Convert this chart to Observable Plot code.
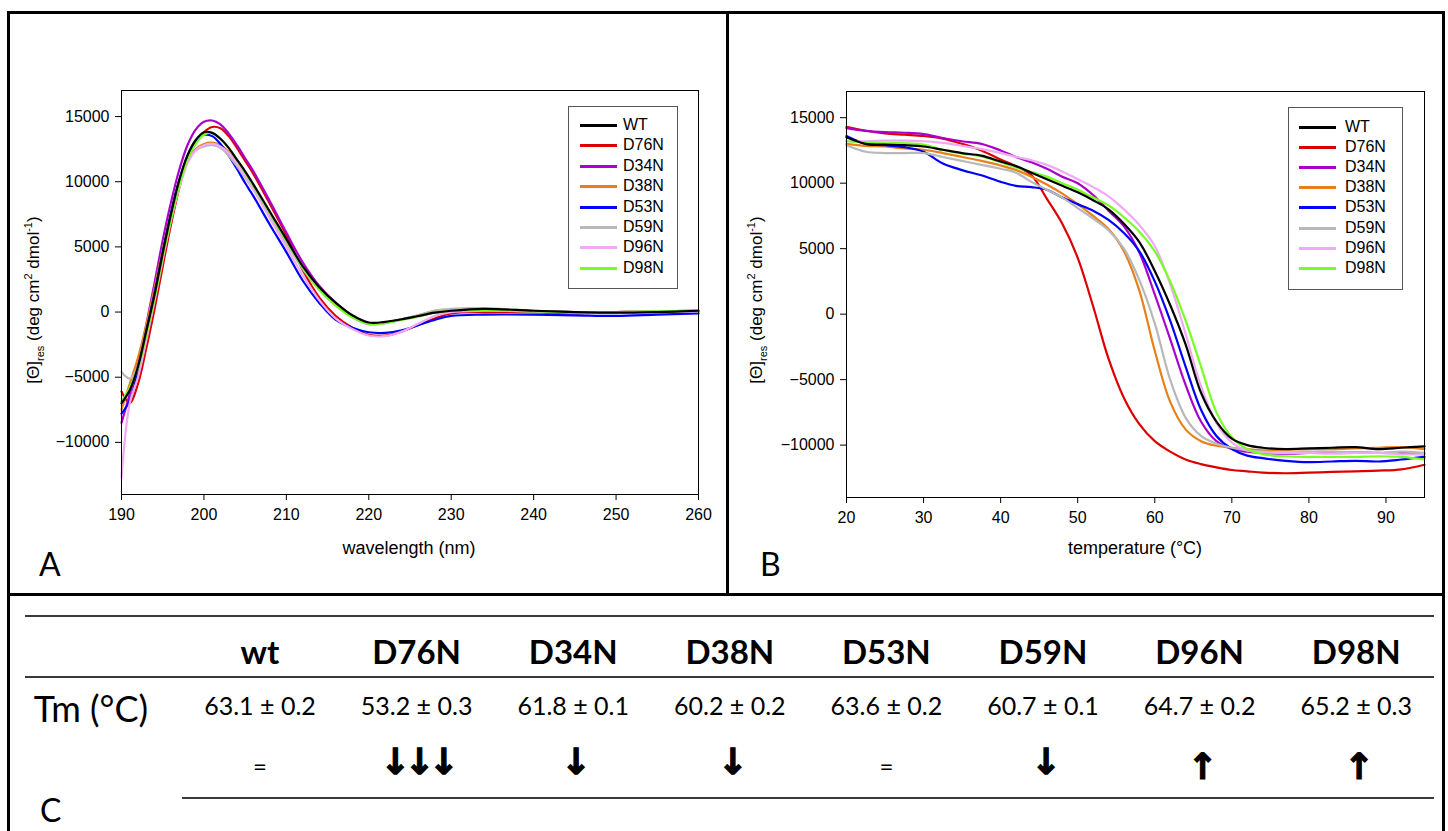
<!DOCTYPE html>
<html><head><meta charset="utf-8">
<script src="https://cdn.jsdelivr.net/npm/d3@7"></script>
<script src="https://cdn.jsdelivr.net/npm/@observablehq/plot@0.6"></script>
<style>
body{margin:0;background:#fff;}
#fig{position:relative;width:1448px;height:831px;overflow:hidden;background:#fff;font-family:"Liberation Sans",Arial,sans-serif;color:#000;}
.abs{position:absolute;white-space:nowrap;}
.legend{position:absolute;border:1px solid #555;background:#fff;box-sizing:border-box;}
.lg-line{position:absolute;height:3px;}
.lg-text{position:absolute;font-size:16px;line-height:16px;}
.ylab{position:absolute;white-space:nowrap;font-size:17px;transform:translate(-50%,-50%) rotate(-90deg);}
.ylab sub,.ylab sup{font-size:11px;}
.xlab{position:absolute;white-space:nowrap;font-size:18px;transform:translate(-50%,-50%);}
.letter{position:absolute;font-family:Lato,sans-serif;font-size:32px;line-height:32px;}
.tbl{position:absolute;white-space:nowrap;font-family:Lato,sans-serif;transform:translate(-50%,-50%);line-height:1;}
.hline{position:absolute;height:1.5px;background:#3a3a3a;}
.bar{position:absolute;background:#000;}
</style></head><body><div id="fig"></div>
<script>
// ---------- data ----------
const variants = ["WT","D76N","D34N","D38N","D53N","D59N","D96N","D98N"];
const colors   = ["#000000","#dd0000","#aa00cc","#e8801a","#0000ff","#b8b8b8","#eeaaf5","#77ff22"];

// Panel A: CD spectra, wavelength (nm)
const wavelength = [190,191,192,193,194,195,196,197,198,199,200,201,202,203,204,205,206,208,210,212,214,216,218,220,222,224,226,228,230,234,240,245,250,255,260];
const cdWT   = [-7000,-6000,-4200,-1500,1300,4500,7500,10100,12000,13200,13800,13750,13300,12600,11700,10800,9800,7700,5600,3500,1900,700,-250,-800,-750,-550,-300,-50,100,250,100,0,-50,0,100];
const cdD76N = [-6100,-7000,-5500,-2800,200,3500,6700,9500,11700,13000,13800,14200,14100,13500,12600,11600,10600,8300,5900,3200,1100,-300,-1200,-1750,-1800,-1500,-1000,-500,-100,0,0,-100,0,50,100];
const cdD34N = [-8500,-6300,-4000,-1000,2200,5500,8400,10900,12800,14000,14600,14700,14400,13700,12800,11800,10800,8500,6100,3800,2000,700,-300,-850,-800,-550,-300,-50,100,200,50,0,0,50,100];
const cdD38N = [-7500,-5500,-3500,-1000,1800,4800,7600,10000,11600,12500,12900,13000,12800,12300,11500,10600,9600,7500,5400,3400,1800,600,-350,-900,-800,-550,-250,100,200,200,100,0,0,50,100];
const cdD53N = [-7800,-6800,-4500,-1500,1400,4600,7600,10100,12000,13100,13600,13500,12900,12000,11000,9900,8900,6700,4600,2400,700,-600,-1200,-1550,-1600,-1400,-1000,-600,-300,-200,-200,-250,-300,-200,-100];
const cdD59N = [-4600,-5100,-4200,-1700,1200,4300,7300,9800,11500,12400,12700,12800,12600,12000,11200,10300,9400,7300,5300,3300,1700,500,-400,-950,-850,-550,-250,100,250,300,100,0,0,50,100];
const cdD96N = [-12700,-7000,-5000,-2200,800,4000,7000,9500,11400,12400,12800,12900,12700,12200,11400,10400,9400,7200,5000,2800,900,-500,-1300,-1800,-1850,-1500,-900,-300,0,100,50,-50,0,50,50];
const cdD98N = [-6850,-5800,-4300,-1800,1000,4200,7100,9700,11700,12900,13600,13750,13300,12600,11700,10700,9700,7600,5500,3400,1700,500,-400,-900,-850,-600,-350,-50,100,150,50,0,0,50,100];

// Panel B: thermal melts, temperature (°C)
const temperature = [20,22.5,25,27.5,30,32.5,35,37.5,40,42,44,46,48,50,52,54,56,58,60,62,64,66,68,70,72,74,77,80,83,86,89,92,95];
const mWT   = [13500,13000,12950,12900,12800,12550,12300,12100,11650,11300,10800,10300,9800,9300,8700,8000,6900,5500,3300,700,-2300,-6000,-8200,-9500,-10000,-10200,-10300,-10250,-10200,-10150,-10300,-10200,-10100];
const mD76N = [14300,14000,13800,13700,13600,13400,13000,12500,11800,11300,10600,8800,6900,4300,600,-3400,-6400,-8400,-9700,-10500,-11100,-11450,-11700,-11900,-12000,-12100,-12150,-12100,-12050,-12000,-11950,-11850,-11500];
const mD34N = [14200,14000,13900,13850,13750,13450,13200,13000,12500,12000,11600,11100,10500,10000,9100,7900,6700,4700,1500,-1900,-5400,-8200,-9700,-10300,-10500,-10600,-10650,-10600,-10600,-10550,-10600,-10600,-10700];
const mD38N = [13000,12850,12800,12650,12550,12300,12000,11700,11350,11000,10500,9900,9200,8400,7500,6500,4800,1800,-2800,-6700,-8800,-9700,-10050,-10200,-10300,-10400,-10350,-10300,-10300,-10250,-10200,-10150,-10300];
const mD53N = [13600,13000,12900,12750,12400,11500,11000,10600,10100,9800,9700,9500,8900,8400,7900,7200,6200,4800,2500,-500,-4000,-7300,-9300,-10300,-10800,-11000,-11200,-11300,-11250,-11200,-11250,-11100,-10900];
const mD59N = [12900,12400,12300,12300,12300,12000,11700,11400,11100,10800,10100,9500,8900,8100,7300,6400,5000,2600,-700,-5000,-7900,-9300,-9900,-10200,-10400,-10500,-10550,-10500,-10500,-10550,-10600,-10500,-10600];
const mD96N = [13200,13200,13250,13250,13200,13080,12850,12600,12300,12000,11750,11400,10900,10300,9700,9000,8000,6800,5200,2300,-1500,-5500,-8300,-9800,-10400,-10550,-10600,-10600,-10650,-10600,-10600,-10700,-10700];
const mD98N = [13200,13100,13050,13050,12950,12550,12250,12050,11600,11200,10850,10500,10000,9500,8900,8300,7400,6300,4800,2500,-500,-4000,-7500,-9400,-10300,-10700,-10850,-10900,-10900,-10900,-10850,-10900,-11100];

const yTicks = [-10000,-5000,0,5000,10000,15000];
const xTicksA = [190,200,210,220,230,240,250,260];
const xTicksB = [20,30,40,50,60,70,80,90];

// Panel C: table
const tableHeads = ["wt","D76N","D34N","D38N","D53N","D59N","D96N","D98N"];
const tmValue = [63.1,53.2,61.8,60.2,63.6,60.7,64.7,65.2];
const tmError = [0.2,0.3,0.1,0.2,0.2,0.1,0.2,0.3];
const tmChange = ["=","↓↓↓","↓","↓","=","↓","↑","↑"];

// ---------- build ----------
const fig = document.getElementById("fig");
function el(cls, html, css){const d=document.createElement("div");d.className=cls;d.innerHTML=html;Object.assign(d.style,css);fig.appendChild(d);return d;}

const cdSeries = [cdWT,cdD76N,cdD34N,cdD38N,cdD53N,cdD59N,cdD96N,cdD98N];
const meltSeries = [mWT,mD76N,mD34N,mD38N,mD53N,mD59N,mD96N,mD98N];
const cdRows = cdSeries.flatMap((s,i)=>s.map((v,j)=>({variant:variants[i],x:wavelength[j],y:v})));
const meltRows = meltSeries.flatMap((s,i)=>s.map((v,j)=>({variant:variants[i],x:temperature[j],y:v})));

function panel(rows, xDomain, xTicks, opts){
  return Plot.plot({
    width: opts.width, height: opts.height,
    marginLeft: opts.ml, marginRight: opts.mr, marginTop: opts.mt, marginBottom: opts.mb,
    style:{fontFamily:'"Liberation Sans", Arial, sans-serif', fontSize:"16px", background:"transparent", color:"#000", overflow:"visible"},
    x:{domain:xDomain, ticks:xTicks, tickFormat:"d", tickSize:6, tickPadding:8, label:null},
    y:{domain:[-14000,17000], ticks:yTicks, tickFormat:"d", tickSize:6, tickPadding:6, label:null},
    color:{domain:variants, range:colors},
    marks:[
      Plot.line(rows.filter(r=>r.variant!=="WT"), {x:"x", y:"y", z:"variant", stroke:"variant", strokeWidth:2.2, curve:"catmull-rom"}),
      Plot.line(rows.filter(r=>r.variant==="WT"), {x:"x", y:"y", stroke:"variant", strokeWidth:2.2, curve:"catmull-rom"}),
      Plot.frame({stroke:"#000", strokeWidth:1})
    ]
  });
}

const svgA = panel(cdRows,[190,260],xTicksA,{width:727,height:595,ml:121,mr:29,mt:90,mb:101});
const svgB = panel(meltRows,[20,95],xTicksB,{width:721,height:595,ml:119,mr:24,mt:91,mb:98});
const wa = el("abs","",{left:"0px",top:"0px"}); wa.appendChild(svgA);
const wb = el("abs","",{left:"727px",top:"0px"}); wb.appendChild(svgB);

// axis titles
const yLabel = "[Θ]<sub>res</sub> (deg cm<sup>2</sup> dmol<sup>-1</sup>)";
el("ylab", yLabel, {left:"34px", top:"300px"});
el("ylab", yLabel, {left:"757px", top:"300px"});
el("xlab", "wavelength (nm)", {left:"409px", top:"548px"});
el("xlab", "temperature (°C)", {left:"1135px", top:"548px"});

// legends
function legend(left, top, w, h, lineX, textX, firstY, step){
  el("legend","",{left:left+"px",top:top+"px",width:w+"px",height:h+"px"});
  variants.forEach((v,i)=>{
    const y = Math.round(firstY + i*step);
    el("lg-line","",{left:lineX+"px",top:(y-1)+"px",width:"37px",background:colors[i]});
    el("lg-text",v,{left:textX+"px",top:(y-8)+"px"});
  });
}
legend(568,106,110,183,580,623,125,20.4);
legend(1288,107,115,183,1299,1345,127,20.1);

// frame borders
el("bar","",{left:"7px",top:"11px",width:"3px",height:"830px"});
el("bar","",{left:"7px",top:"11px",width:"1438px",height:"3px"});
el("bar","",{left:"1442px",top:"11px",width:"3px",height:"830px"});
el("bar","",{left:"726px",top:"11px",width:"3px",height:"584px"});
el("bar","",{left:"7px",top:"593px",width:"1438px",height:"3px"});

// panel letters
el("letter","A",{left:"39px",top:"548px"});
el("letter","B",{left:"760px",top:"548px"});
el("letter","C",{left:"40px",top:"794px"});

// table
el("hline","",{left:"25px",top:"615px",width:"1409px"});
el("hline","",{left:"25px",top:"676px",width:"1409px"});
el("hline","",{left:"182px",top:"797px",width:"1252px"});
el("tbl","Tm (°C)",{left:"91px",top:"708px",fontSize:"36px"});
tableHeads.forEach((h,i)=>{
  const cx = 260 + i*156.6;
  el("tbl",h,{left:cx+"px",top:"651px",fontSize:"33px",fontWeight:"700"});
  el("tbl",tmValue[i].toFixed(1)+" ± "+tmError[i].toFixed(1),{left:cx+"px",top:"705px",fontSize:"25px"});
  const ch = tmChange[i];
  if(ch==="=") el("tbl","=",{left:cx+"px",top:"766px",fontSize:"24px"});
  else el("tbl",ch,{left:cx+"px",top:(ch==="↑"?"767px":"762px"),fontSize:"36px",fontWeight:"700",fontFamily:'"DejaVu Sans",sans-serif',letterSpacing:"-6px",webkitTextStroke:"1.2px #000"});
});
</script></body></html>
